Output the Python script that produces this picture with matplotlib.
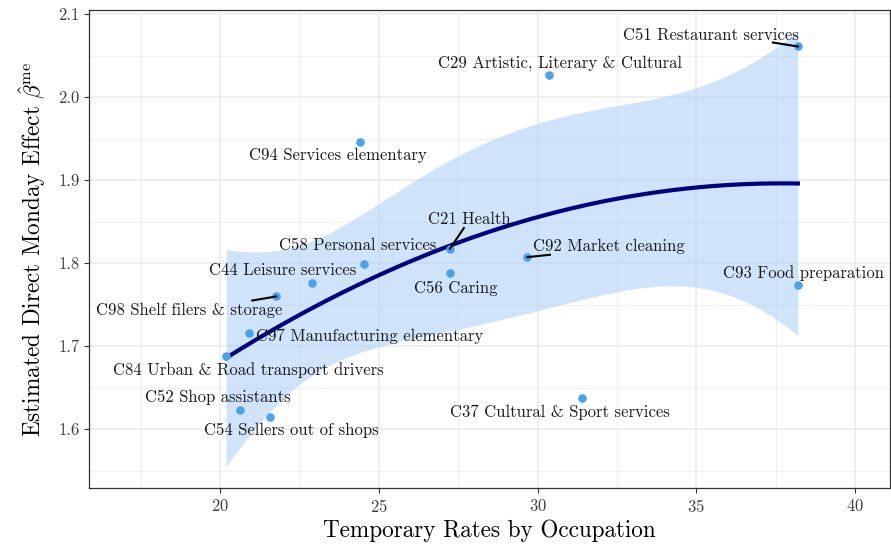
import numpy as np
import matplotlib
matplotlib.use("Agg")
import matplotlib.pyplot as plt
from matplotlib.ticker import MultipleLocator

plt.rcParams['font.family'] = ['cmr10', 'DejaVu Serif']
plt.rcParams['mathtext.fontset'] = 'cm'
plt.rcParams['axes.formatter.use_mathtext'] = True

# occupations: temporary rate (x) and estimated effect (y)
codes = ["C51 Restaurant services", "C29 Artistic, Literary & Cultural",
         "C94 Services elementary", "C21 Health", "C58 Personal services",
         "C92 Market cleaning", "C93 Food preparation", "C56 Caring",
         "C44 Leisure services", "C98 Shelf filers & storage",
         "C97 Manufacturing elementary", "C84 Urban & Road transport drivers",
         "C52 Shop assistants", "C54 Sellers out of shops",
         "C37 Cultural & Sport services"]
temp_rate = [38.20, 30.36, 24.40, 27.24, 24.54, 29.68, 38.20, 27.24,
             22.90, 21.77, 20.92, 20.19, 20.63, 21.57, 31.39]
effect = [2.061, 2.027, 1.9465, 1.8172, 1.7983, 1.8072, 1.774, 1.788,
          1.7766, 1.7598, 1.716, 1.688, 1.6233, 1.6149, 1.6369]

# label placement (text x, text y) and optional segment start
label_xy = [(35.45, 2.075), (30.72, 2.0413), (23.70, 1.9296), (27.84, 1.8522),
            (24.33, 1.8217), (32.25, 1.820), (38.39, 1.788), (27.43, 1.769),
            (21.98, 1.7907), (19.04, 1.7429), (24.72, 1.7116), (20.88, 1.6714),
            (19.95, 1.6381), (22.25, 1.598), (30.71, 1.620)]
seg_start = {0: (37.41, 2.0658), 3: (27.68, 1.8422), 5: (30.39, 1.810),
             9: (21.02, 1.7549)}

x = np.array(temp_rate)
y = np.array(effect)

# quadratic lm smooth with 95% CI (like geom_smooth(method="lm", y ~ poly(x,2)))
X = np.column_stack([np.ones_like(x), x, x**2])
beta, res, rk, sv = np.linalg.lstsq(X, y, rcond=None)
n = len(x)
sigma2 = np.sum((y - X @ beta)**2) / (n - 3)
cov = sigma2 * np.linalg.inv(X.T @ X)
xs = np.linspace(x.min(), x.max(), 200)
Xs = np.column_stack([np.ones_like(xs), xs, xs**2])
fit = Xs @ beta
se = np.sqrt(np.einsum('ij,jk,ik->i', Xs, cov, Xs))
tq = 2.178813  # t(0.975, df=12)

fig = plt.figure(figsize=(8.91, 5.45), dpi=100)
ax = fig.add_axes([0.1002, 0.104, 0.8987, 0.8777])

ax.fill_between(xs, fit - tq*se, fit + tq*se, color='#a9cdf7', alpha=0.55,
                linewidth=0, zorder=2)
ax.plot(xs, fit, color='#000080', linewidth=3, zorder=3)
ax.scatter(x, y, s=38, color='#4aa3e6', zorder=4, linewidths=0)

for i, lab in enumerate(codes):
    tx, ty = label_xy[i]
    ax.text(tx, ty, lab, fontsize=12, ha='center', va='center',
            color='#1a1a1a', zorder=5)
    if i in seg_start:
        sx, sy = seg_start[i]
        ax.plot([sx, temp_rate[i]], [sy, effect[i]], color='black',
                linewidth=1.5, zorder=5)

ax.set_xlim(15.885, 41.1)
ax.set_ylim(1.5286, 2.105)
ax.xaxis.set_major_locator(MultipleLocator(5))
ax.xaxis.set_minor_locator(MultipleLocator(2.5))
ax.yaxis.set_major_locator(MultipleLocator(0.1))
ax.yaxis.set_minor_locator(MultipleLocator(0.05))
ax.yaxis.set_major_formatter(matplotlib.ticker.FormatStrFormatter('%.1f'))
ax.grid(which='major', color='#ebebeb', linewidth=1.1, zorder=0)
ax.grid(which='minor', color='#ebebeb', linewidth=0.55, zorder=0)
ax.set_axisbelow(True)
ax.tick_params(which='minor', length=0)
ax.tick_params(which='major', length=3.5, width=0.8, color='#333333',
               labelsize=12, labelcolor='#404040')
for sp in ax.spines.values():
    sp.set_color('#333333')
    sp.set_linewidth(0.9)

ax.set_xlabel('Temporary Rates by Occupation', fontsize=16.7, labelpad=3)
ax.set_ylabel(r'Estimated Direct Monday Effect $\hat{\beta}^{\mathrm{me}}$',
              fontsize=16.7, labelpad=7)

fig.savefig('out.png', dpi=100)
